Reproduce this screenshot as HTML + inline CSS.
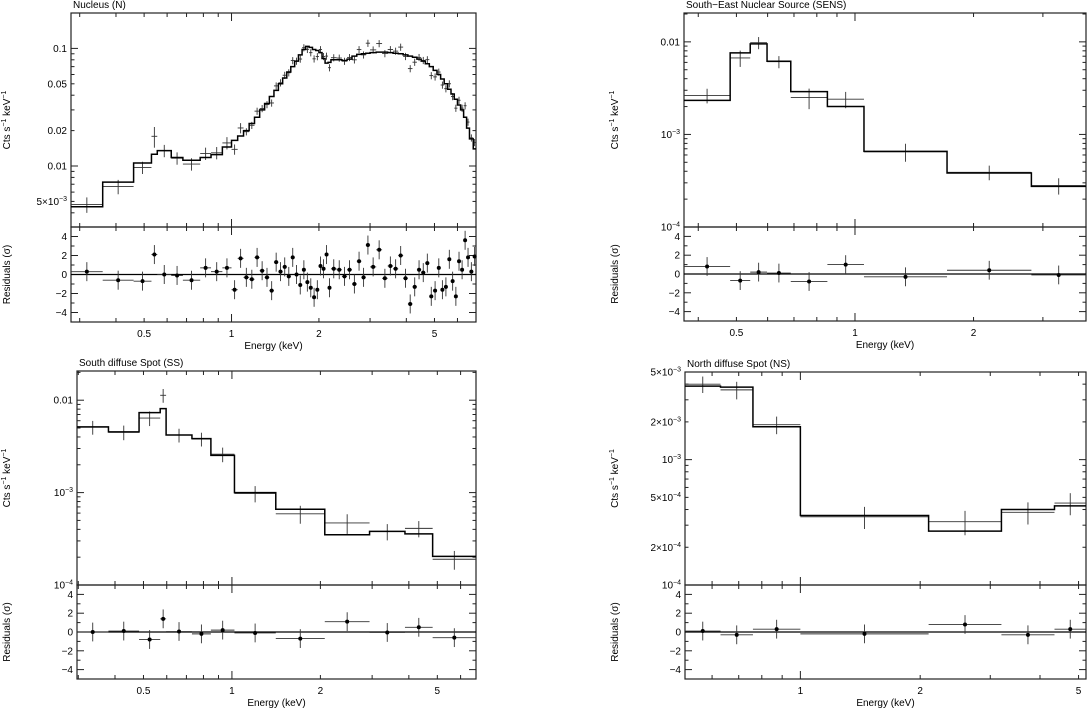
<!DOCTYPE html>
<html><head><meta charset="utf-8"><style>
html,body{margin:0;padding:0;background:#fff;}
svg{display:block;font-family:"Liberation Sans",Arial,sans-serif;}
</style></head><body>
<svg id="fig" width="1088" height="713" viewBox="0 0 1088 713" xmlns="http://www.w3.org/2000/svg"></svg>
<script>
// ---------- Panel 1: Nucleus ----------
const nEdges = [0.28,0.36,0.46,0.53,0.555,0.62,0.68,0.78,0.85,0.93,1.0,1.05,1.1,1.15,1.2,1.25,1.3,1.35,1.4,1.45,1.5,1.55,1.6,1.65,1.7,1.75,1.8,1.85,1.9,1.95,2.0,2.05,2.1,2.15,2.2,2.3,2.4,2.5,2.6,2.7,2.8,2.9,3.0,3.15,3.3,3.45,3.6,3.75,3.9,4.05,4.2,4.35,4.5,4.65,4.8,4.95,5.1,5.25,5.4,5.55,5.7,5.85,6.0,6.15,6.3,6.45,6.6,6.8,7.0];
const nModel = [0.0045,0.0073,0.0106,0.0126,0.0135,0.0118,0.0112,0.0118,0.0125,0.0145,0.0165,0.018,
 0.02,0.023,0.026,0.03,0.034,0.039,0.044,0.05,0.056,0.063,0.07,0.078,0.088,0.098,0.104,0.102,0.098,0.096,
 0.092,0.082,0.075,0.076,
 0.08,0.08,0.079,0.081,0.086,0.089,0.09,0.091,
 0.092,0.093,0.093,0.092,0.091,0.09,0.088,0.086,0.084,0.081,0.078,0.074,0.07,
 0.065,0.06,0.055,0.05,0.045,0.041,0.037,0.033,0.03,0.026,0.021,0.017,0.014];
const nResid = [0.3,-0.6,-0.7,2.1,0.0,-0.1,-0.6,0.7,0.3,0.7,-1.6,1.7,
 -0.3,-0.5,1.8,0.4,-0.3,-1.7,1.3,0.3,0.8,-0.2,1.8,0.0,-1.1,0.5,-0.8,-1.4,-2.4,-1.6,
 0.9,0.6,2.1,-1.4,
 0.6,0.5,-0.2,0.5,-1.0,1.4,-0.3,3.1,
 0.8,2.6,-0.4,0.9,0.6,2.0,-0.4,-3.1,-1.3,0.5,0.2,1.2,-2.3,
 -1.7,0.7,-1.6,-1.3,1.6,-0.7,-2.3,1.4,0.5,3.6,1.8,0.3,1.9];
const nErrFrac = [0.15,0.14,0.12,0.2,0.12,0.12,0.12,0.12,0.12,0.12,0.1,0.1];
const nErrFracHigh = 0.07;
const nYTicks = [0.1,0.05,0.02,0.01,0.005];
const nYTickLabels = ["0.1","0.05","0.02","0.01","5×10^-3"];

// ---------- Panel 2: SENS ----------
const sEdges = [0.368,0.482,0.542,0.598,0.687,0.851,1.054,1.713,2.805,3.86];
const sModel = [0.00233,0.0076,0.0095,0.00618,0.0029,0.002,0.000657,0.000383,0.000275];
const sData  = [0.00264,0.0067,0.0098,0.0061,0.0025,0.0024,0.00065,0.00039,0.00028];
const sErr   = [0.18,0.2,0.15,0.15,0.25,0.2,0.22,0.18,0.2];
const sResid = [0.8,-0.7,0.2,0.1,-0.8,1.0,-0.3,0.4,-0.1];
const sYTicks = [0.01,0.001,0.0001];
const sYTickLabels = ["0.01","10^-3","10^-4"];

// ---------- Panel 3: SS ----------
const ssEdges = [0.297,0.38,0.483,0.57,0.597,0.731,0.848,1.02,1.41,2.07,2.94,3.88,4.82,6.77];
const ssModel = [0.00514,0.00454,0.00734,0.0081,0.0042,0.00384,0.00253,0.001,0.00066,0.00035,0.00038,0.000357,0.000204];
const ssData  = [0.0051,0.0045,0.0064,0.0113,0.0042,0.0038,0.0026,0.00098,0.00059,0.00047,0.00038,0.00041,0.00019];
const ssErr   = [0.17,0.18,0.18,0.17,0.17,0.17,0.18,0.2,0.22,0.24,0.2,0.2,0.23];
const ssResid = [0.0,0.1,-0.8,1.4,0.05,-0.2,0.2,-0.1,-0.7,1.1,-0.05,0.5,-0.6];
const ssYTicks = [0.01,0.001,0.0001];
const ssYTickLabels = ["0.01","10^-3","10^-4"];

// ---------- Panel 4: NS ----------
const nsEdges = [0.513,0.63,0.76,1.0,2.1,3.2,4.35,5.22];
const nsModel = [0.00386,0.00379,0.00183,0.000358,0.000269,0.0004,0.000428];
const nsData  = [0.0040,0.0036,0.0019,0.00035,0.00032,0.00038,0.00045];
const nsErr   = [0.15,0.16,0.16,0.2,0.22,0.2,0.2];
const nsResid = [0.1,-0.3,0.3,-0.2,0.8,-0.3,0.3];
const nsYTicks = [0.005,0.002,0.001,0.0005,0.0002,0.0001];
const nsYTickLabels = ["5×10^-3","2×10^-3","10^-3","5×10^-4","2×10^-4","10^-4"];

const xTickVals = [0.5,1,2,5];
const xTickLabels = ["0.5","1","2","5"];
const residTicks = [4,2,0,-2,-4];

const NS = "http://www.w3.org/2000/svg";
const svg = document.getElementById('fig');
function mk(tag, attrs, parent){const e=document.createElementNS(NS,tag);for(const k in attrs)e.setAttribute(k,attrs[k]);(parent||svg).appendChild(e);return e;}
function addLabel(g,x,y,txt,anchor,size){
  const t=mk('text',{x:x,y:y,'text-anchor':anchor,'font-size':size,fill:'#000'},g);
  const parts=txt.split('^');
  t.appendChild(document.createTextNode(parts[0]));
  if(parts[1]){const s=mk('tspan',{dy:-4,'font-size':size-3},t);s.textContent=parts[1].replace('-','−');}
  return t;
}

function panel(cfg){
  const g=mk('g',{});
  
  
  const L=cfg.left,R=cfg.right,T=cfg.top,M=cfg.mid,B=cfg.bottom;
  const lx0=Math.log10(cfg.xmin),lx1=Math.log10(cfg.xmax);
  const X=e=>L+(Math.log10(e)-lx0)/(lx1-lx0)*(R-L);
  const ly0=Math.log10(cfg.ymin),ly1=Math.log10(cfg.ymax);
  const Y=v=>M-(Math.log10(v)-ly0)/(ly1-ly0)*(M-T);
  const RY=r=>(M+B)/2 - r*(B-M)/(cfg.rmax-cfg.rmin);
  // title
  const ti=mk('text',{x:L+2,y:T-5,'font-size':10,fill:'#000'},g);
  ti.textContent=cfg.title;
  
  
  // frames
  const f1=mk('rect',{x:L,y:T,width:R-L,height:M-T,fill:'none',stroke:'#222','stroke-width':1.2},g);
  
  
  const f2=mk('rect',{x:L,y:M,width:R-L,height:B-M,fill:'none',stroke:'#222','stroke-width':1.2},g);
  
  
  // x ticks
  const dec0=Math.floor(lx0),dec1=Math.ceil(lx1);
  for(let d=dec0;d<=dec1;d++)for(let m=1;m<10;m++){
    const e=m*Math.pow(10,d); if(e<cfg.xmin||e>cfg.xmax)continue;
    const x=X(e); const major=(m===1||m===2||m===5); const len=(m===1)?8:4;
    [T,M,B].forEach(yy=>{
      if(yy!==T) mk('line',{x1:x,x2:x,y1:yy,y2:yy-len,stroke:'#222','stroke-width':1},g);
      if(yy!==B) mk('line',{x1:x,x2:x,y1:yy,y2:yy+len,stroke:'#222','stroke-width':1},g);
    });
  }
  xTickVals.forEach((v,i)=>{ if(v<cfg.xmin||v>cfg.xmax)return;
    const t=mk('text',{x:X(v),y:B+15,'text-anchor':'middle','font-size':10,fill:'#000'},g);
    t.textContent=xTickLabels[i];
    
    
  });
  const xl=mk('text',{x:(L+R)/2,y:B+27,'text-anchor':'middle','font-size':10,fill:'#000'},g);
  xl.textContent='Energy (keV)';
  
  
  // y ticks (log)
  for(let d=Math.floor(ly0);d<=Math.ceil(ly1);d++)for(let m=1;m<10;m++){
    const v=m*Math.pow(10,d); if(v<cfg.ymin*0.999||v>cfg.ymax*1.001)continue;
    const y=Y(v); const len=(m===1)?7:3.5;
    mk('line',{x1:L,x2:L+len,y1:y,y2:y,stroke:'#222','stroke-width':1},g);
    mk('line',{x1:R,x2:R-len,y1:y,y2:y,stroke:'#222','stroke-width':1},g);
  }
  cfg.yTicks.forEach((v,i)=>{
    const t=addLabel(g,L-4,Y(v)+3.5,cfg.yLabels[i],'end',10);
    
    
  });
  const yl=mk('text',{x:0,y:0,'text-anchor':'middle','font-size':10,fill:'#000',transform:`translate(${cfg.ylx},${(T+M)/2}) rotate(-90)`},g);
  yl.appendChild(document.createTextNode('Cts s'));
  let s1=mk('tspan',{dy:-4,'font-size':7},yl); s1.textContent='−1';
  let s2=mk('tspan',{dy:4},yl); s2.textContent=' keV';
  let s3=mk('tspan',{dy:-4,'font-size':7},yl); s3.textContent='−1';
  
  
  // residual ticks
  for(let r=cfg.rmin+1;r<cfg.rmax;r++){
    const y=RY(r),len=(r%2===0)?7:3.5;
    mk('line',{x1:L,x2:L+len,y1:y,y2:y,stroke:'#222','stroke-width':1},g);
    mk('line',{x1:R,x2:R-len,y1:y,y2:y,stroke:'#222','stroke-width':1},g);
  }
  residTicks.forEach(r=>{
    const t=mk('text',{x:L-4,y:RY(r)+3.5,'text-anchor':'end','font-size':10,fill:'#000'},g);
    t.textContent=(r<0?'−'+(-r):String(r));
    
    
  });
  const rl=mk('text',{x:0,y:0,'text-anchor':'middle','font-size':10,fill:'#000',transform:`translate(${cfg.ylx},${(M+B)/2}) rotate(-90)`},g);
  rl.textContent='Residuals (σ)';
  
  
  // zero line
  const z=mk('line',{x1:L,x2:R,y1:RY(0),y2:RY(0),stroke:'#000','stroke-width':1.2},g);
  
  
  // data crosses
  const edges=cfg.edges;
  for(let i=0;i<cfg.model.length;i++){
    const lo=Math.max(edges[i],cfg.xmin),hi=Math.min(edges[i+1],cfg.xmax);
    const c=Math.sqrt(lo*hi), dv=cfg.data[i], ef=cfg.err[i];
    const pg=mk('g',{stroke:'#333','stroke-width':0.9},g);
    
    
    mk('line',{x1:X(lo),x2:X(hi),y1:Y(dv),y2:Y(dv)},pg);
    mk('line',{x1:X(c),x2:X(c),y1:Y(Math.min(dv*(1+ef),cfg.ymax)),y2:Y(Math.max(dv*(1-ef),cfg.ymin))},pg);
    // residual
    const rg=mk('g',{stroke:'#333','stroke-width':0.9},g);
    
    
    const ry=RY(cfg.resid[i]);
    mk('line',{x1:X(lo),x2:X(hi),y1:ry,y2:ry},rg);
    mk('line',{x1:X(c),x2:X(c),y1:RY(cfg.resid[i]+1),y2:RY(cfg.resid[i]-1)},rg);
    mk('circle',{cx:X(c),cy:ry,r:2,fill:'#000',stroke:'none'},rg);
  }
  // model step
  let d='';
  for(let i=0;i<cfg.model.length;i++){
    const lo=Math.max(edges[i],cfg.xmin),hi=Math.min(edges[i+1],cfg.xmax);
    const y=Y(cfg.model[i]);
    d+=(i===0?'M':'L')+X(lo).toFixed(2)+','+y.toFixed(2)+'L'+X(hi).toFixed(2)+','+y.toFixed(2);
  }
  const p=mk('path',{d:d,fill:'none',stroke:'#000','stroke-width':1.5},g);
  
  
}

// derive nucleus data from model, residual and errors
const nErr=nModel.map((m,i)=>i<nErrFrac.length?nErrFrac[i]:nErrFracHigh);
const nData=nModel.map((m,i)=>m*(1+nResid[i]*nErr[i]/(1+Math.abs(nResid[i])*0.0)));

panel({name:'nucleus-panel',title:'Nucleus (N)',left:71,right:476,top:13,mid:227,bottom:322,
  xmin:0.28,xmax:6.95,ymin:0.00303,ymax:0.2,rmin:-5,rmax:5,ylx:10,
  edges:nEdges,model:nModel,data:nData,err:nErr,resid:nResid,yTicks:nYTicks,yLabels:nYTickLabels});
panel({name:'sens-panel',title:'South−East Nuclear Source (SENS)',left:684,right:1086,top:13,mid:227,bottom:321,
  xmin:0.368,xmax:3.86,ymin:0.0001,ymax:0.0205,rmin:-5,rmax:5,ylx:618,
  edges:sEdges,model:sModel,data:sData,err:sErr,resid:sResid,yTicks:sYTicks,yLabels:sYTickLabels});
panel({name:'ss-panel',title:'South diffuse Spot (SS)',left:77,right:476,top:371,mid:585,bottom:679,
  xmin:0.297,xmax:6.77,ymin:0.0001,ymax:0.0207,rmin:-5,rmax:5,ylx:10,
  edges:ssEdges,model:ssModel,data:ssData,err:ssErr,resid:ssResid,yTicks:ssYTicks,yLabels:ssYTickLabels});
panel({name:'ns-panel',title:'North diffuse Spot (NS)',left:685,right:1086,top:372,mid:585,bottom:679,
  xmin:0.513,xmax:5.22,ymin:0.0001,ymax:0.005,rmin:-5,rmax:5,ylx:618,
  edges:nsEdges,model:nsModel,data:nsData,err:nsErr,resid:nsResid,yTicks:nsYTicks,yLabels:nsYTickLabels});
</script>
</body></html>
